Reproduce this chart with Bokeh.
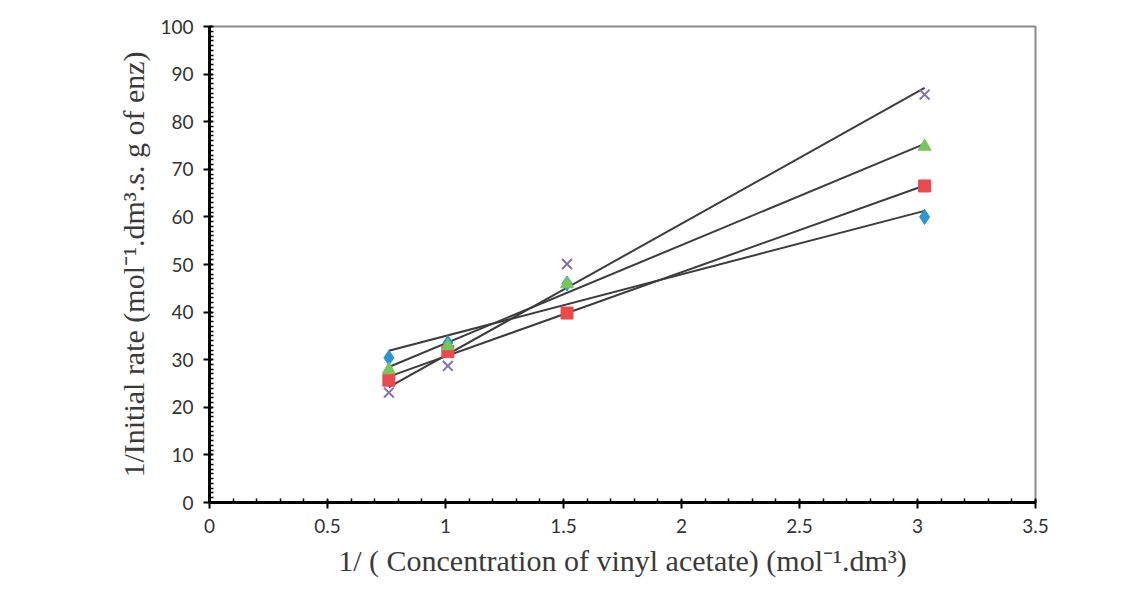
import numpy as np
from bokeh.plotting import figure
from bokeh.models import FixedTicker, Range1d
from bokeh.embed import file_html
from bokeh.resources import INLINE

# ---- data ----
x_vals = [0.76, 1.01, 1.515, 3.03]
y_blue = [30.4, 33.5, 46.0, 60.0]
y_red = [25.7, 31.7, 39.8, 66.5]
y_green = [27.9, 32.9, 45.9, 74.8]
y_purple = [23.1, 28.7, 50.1, 85.7]

x_ticks = [0, 0.5, 1, 1.5, 2, 2.5, 3, 3.5]
x_tick_labels = ["0", "0.5", "1", "1.5", "2", "2.5", "3", "3.5"]
y_ticks = [0, 10, 20, 30, 40, 50, 60, 70, 80, 90, 100]
y_tick_labels = [str(t) for t in y_ticks]

x_label = "1/ ( Concentration of vinyl acetate) (mol\u207b\u00b9.dm\u00b3)"
y_label = "1/Initial rate (mol\u207b\u00b9.dm\u00b3.s. g of enz)"

p = figure(width=1122, height=579, output_backend="svg", toolbar_location=None,
           x_range=Range1d(0, 3.5), y_range=Range1d(0, 100))
p.min_border_left = 209
p.min_border_right = 87
p.min_border_top = 26
p.min_border_bottom = 76
p.background_fill_color = "white"
p.border_fill_color = "white"
p.outline_line_color = "#8a8a8a"
p.outline_line_width = 2
p.xgrid.visible = False
p.ygrid.visible = False

# trend lines (least squares fits of each series)
xs = np.array(x_vals)
for ys in (y_blue, y_red, y_green, y_purple):
    m, b = np.polyfit(xs, np.array(ys), 1)
    xl = [xs.min(), xs.max()]
    p.line(xl, [m * xl[0] + b, m * xl[1] + b], line_color="#3c3c3c", line_width=2)

p.scatter(x_vals, y_blue, marker="diamond", size=15, fill_color="#2b95d6",
          line_color="#2b95d6")
p.scatter(x_vals, y_red, marker="square", size=12, fill_color="#ea4a4e",
          line_color="#ea4a4e")
p.scatter(x_vals, y_green, marker="triangle", size=13, fill_color="#76c65c",
          line_color="#76c65c")
p.scatter(x_vals, y_purple, marker="x", size=14, line_color="#8470b8",
          line_width=2)

p.xaxis.ticker = FixedTicker(ticks=x_ticks,
                             minor_ticks=[round(i * 0.1, 2) for i in range(36)])
p.yaxis.ticker = FixedTicker(ticks=y_ticks, minor_ticks=list(range(101)))
p.xaxis.major_label_overrides = {t: l for t, l in zip(x_ticks, x_tick_labels)}
p.yaxis.major_label_overrides = {t: l for t, l in zip(y_ticks, y_tick_labels)}

for ax in (p.xaxis, p.yaxis):
    ax.axis_line_color = "black"
    ax.axis_line_width = 3
    ax.major_tick_line_color = "black"
    ax.major_tick_line_width = 2
    ax.major_tick_out = 6
    ax.major_tick_in = 3
    ax.minor_tick_line_color = "black"
    ax.minor_tick_line_width = 1.5
    ax.minor_tick_in = 4
    ax.minor_tick_out = 0
    ax.major_label_text_font = "Lato"
    ax.major_label_text_font_size = "19px"
    ax.major_label_text_color = "#333333"
    ax.axis_label_text_font = "Liberation Serif"
    ax.axis_label_text_font_size = "30px"
    ax.axis_label_text_font_style = "normal"
    ax.axis_label_text_color = "#3a3a3a"

p.xaxis.axis_label = x_label
p.yaxis.axis_label = y_label
p.xaxis.major_label_standoff = 10
p.yaxis.major_label_standoff = 10
p.xaxis.axis_label_standoff = 8
p.yaxis.axis_label_standoff = 7

open("out.html", "w").write(file_html(p, INLINE))
